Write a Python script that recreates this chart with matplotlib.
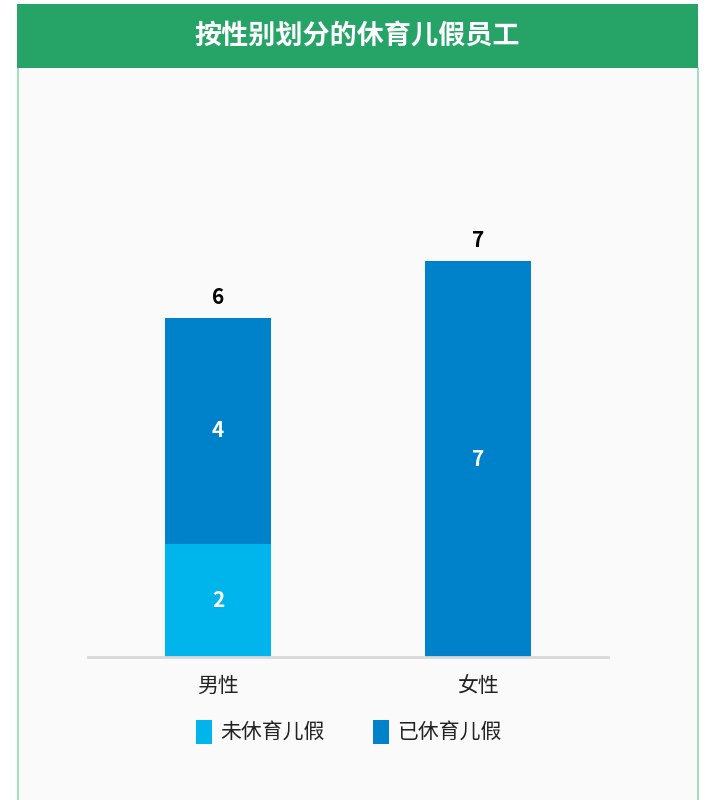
import matplotlib
matplotlib.use('Agg')
import matplotlib.pyplot as plt
from matplotlib.patches import Rectangle
from matplotlib.lines import Line2D

plt.rcParams['font.family'] = ['Noto Sans CJK SC', 'DejaVu Sans']

# data
title = '按性别划分的休育儿假员工'
categories = ['男性', '女性']
series_names = ['未休育儿假', '已休育儿假']
not_taken = [2, 0]
taken = [4, 7]
colors = ['#00b4ec', '#0082ca']

W, H = 715, 800
fig = plt.figure(figsize=(W / 100, H / 100), dpi=100)
fig.patch.set_facecolor('white')


def px(x, y, w, h):
    # pixel box (top-left origin) -> figure fraction
    return (x / W, 1 - (y + h) / H, w / W, h / H)


# panel background and borders
x0, y0, w0, h0 = px(17, 68, 681, 732)
fig.add_artist(Rectangle((x0, y0), w0, h0, transform=fig.transFigure,
                         facecolor='#fafafa', edgecolor='none', zorder=0))
for bx in (17.5, 697.5):
    fig.add_artist(Line2D([bx / W, bx / W], [0, 1 - 68 / H], transform=fig.transFigure,
                          color='#8fdcb4', lw=1.2, zorder=1))

# header
hx, hy, hw, hh = px(17, 4, 681, 64)
fig.add_artist(Rectangle((hx, hy), hw, hh, transform=fig.transFigure,
                         facecolor='#26a467', edgecolor='none', zorder=1))
fig.text(hx + hw / 2, hy + hh / 2, title, ha='center', va='center',
         color='white', fontsize=19.5, fontweight='bold')

# axes
ax = fig.add_axes(px(88, 100, 520, 557))
ax.set_facecolor('none')
x = list(range(len(categories)))
bw = 0.404
ax.bar(x, not_taken, bw, color=colors[0], zorder=2)
ax.bar(x, taken, bw, bottom=not_taken, color=colors[1], zorder=2)

for i in x:
    if not_taken[i] > 0:
        ax.text(i, not_taken[i] / 2, str(not_taken[i]), ha='center', va='center',
                color='white', fontsize=15, fontweight='bold')
    if taken[i] > 0:
        ax.text(i, not_taken[i] + taken[i] / 2, str(taken[i]), ha='center', va='center',
                color='white', fontsize=15, fontweight='bold')
    total = not_taken[i] + taken[i]
    ax.text(i, total + 0.17, str(total), ha='center', va='bottom',
            color='black', fontsize=15, fontweight='bold')

ax.set_xlim(-0.5, 1.5)
ax.set_ylim(0, 557 / 56.57)
ax.set_xticks(x)
ax.set_xticklabels(categories, fontsize=15, color='#222222')
ax.tick_params(axis='x', length=0, pad=13)
ax.set_yticks([])
for s in ['top', 'right', 'left']:
    ax.spines[s].set_visible(False)
ax.spines['bottom'].set_color('#d9d9d9')
ax.spines['bottom'].set_linewidth(2)

# legend, drawn by hand
for (lx, tx), name, c in zip([(196, 220), (373, 397)], series_names, colors):
    rx, ry, rw, rh = px(lx, 720, 16, 24)
    fig.add_artist(Rectangle((rx, ry), rw, rh, transform=fig.transFigure,
                             facecolor=c, edgecolor='none'))
    fig.text(tx / W, 1 - 732 / H, name, ha='left', va='center',
             fontsize=15, color='#222222')

fig.savefig('out.png', dpi=100, facecolor=fig.get_facecolor())
